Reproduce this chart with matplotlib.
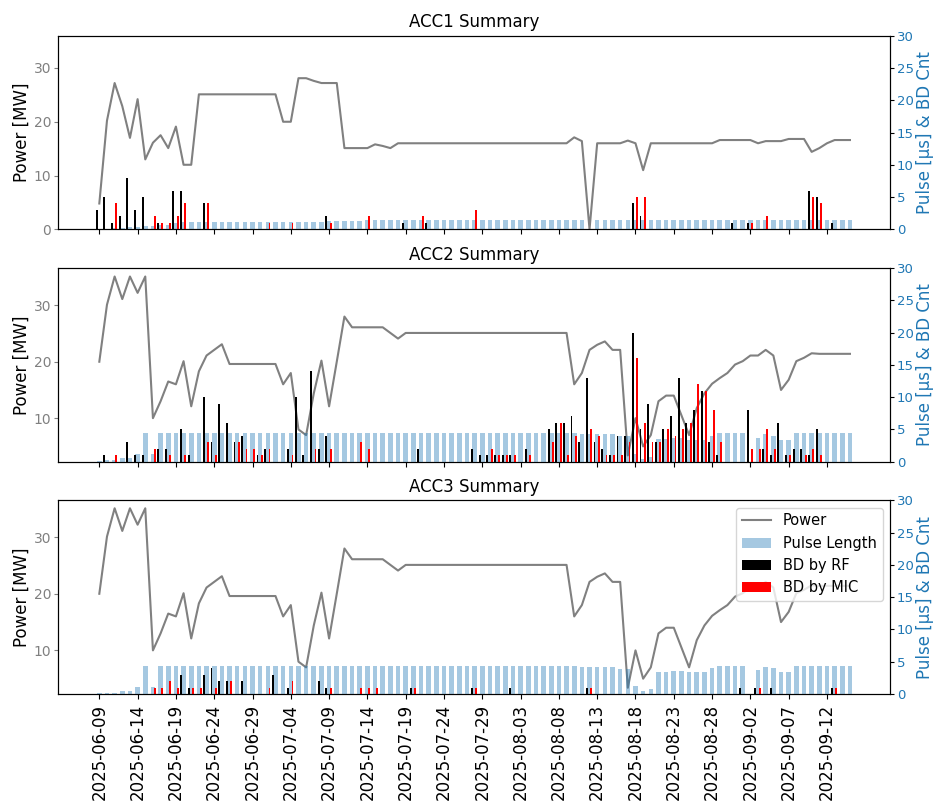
import matplotlib

matplotlib.use("Agg")
import matplotlib.dates as mdates
import matplotlib.pyplot as plt
import numpy as np
import pandas as pd

plt.rcParams.update({"font.size": 10})

START = "2025-06-09"
N_DAYS = 99

# ---------------------------------------------------------------- ACC1
ACC1_POWER = [4.8, 20.2, 27.2, 22.9, 17.0, 24.2, 13.0, 16.1, 17.5, 15.1, 19.1, 12.0, 12.0,
              25.1, 25.1, 25.1, 25.1, 25.1, 25.1, 25.1, 25.1, 25.1, 25.1, 25.1,
              20.0, 20.0, 28.1, 28.1, 27.6, 27.2, 27.2, 27.2,
              15.1, 15.1, 15.1, 15.1, 15.8, 15.5, 15.1,
              16.0, 16.0, 16.0, 16.0, 16.0, 16.0, 16.0, 16.0, 16.0, 16.0, 16.0, 16.0,
              16.0, 16.0, 16.0, 16.0, 16.0, 16.0, 16.0, 16.0, 16.0, 16.0, 16.0,
              17.1, 16.4, 0.0, 16.0, 16.0, 16.0, 16.0, 16.5, 16.0, 11.0,
              16.0, 16.0, 16.0, 16.0, 16.0, 16.0, 16.0, 16.0, 16.0,
              16.6, 16.6, 16.6, 16.6, 16.6, 16.0, 16.4, 16.4, 16.4,
              16.8, 16.8, 16.8, 14.4, 15.1, 16.0, 16.6, 16.6, 16.6]
ACC1_PULSE = [0.1, 0.1, 0.15, 0.2, 0.3, 0.35, 0.5, 0.5, 0.6, 0.65, 1.0, 1.1, 1.1,
              1.15, 1.15, 1.15, 1.15, 1.15, 1.15, 1.15, 1.15, 1.15, 1.15, 1.15, 1.15,
              1.15, 1.15, 1.15, 1.15, 1.15,
              1.3, 1.3, 1.3, 1.3, 1.3,
              1.45, 1.45, 1.45, 1.45, 1.45, 1.45, 1.45, 1.45, 1.45, 1.45, 1.45, 1.45,
              1.45, 1.45, 1.45, 1.45, 1.45, 1.45, 1.45, 1.45, 1.45, 1.45, 1.45, 1.45,
              1.45, 1.45, 1.45, 1.45, 1.45, 0.0,
              1.45, 1.45, 1.45, 1.45, 1.45, 1.45, 1.45, 1.45, 1.45, 1.45, 1.45, 1.45,
              1.45, 1.45, 1.45, 1.45, 1.45, 1.45, 1.45, 1.45, 1.45, 1.45, 1.45, 1.45,
              1.45, 1.45, 1.45, 1.45, 1.45, 1.45, 1.45, 1.45, 1.45, 1.45]
ACC1_RF_DAY = [0, 1, 2, 3, 4, 5, 6, 8, 10, 11, 14, 30, 40, 43, 70, 71, 83, 85, 93, 94, 96]
ACC1_RF_CNT = [3, 5, 1, 2, 8, 3, 5, 1, 6, 6, 4, 2, 1, 1, 4, 2, 1, 1, 6, 5, 1]
ACC1_MIC_DAY = [2, 7, 8, 9, 10, 11, 14, 22, 25, 30, 35, 42, 49, 70, 71, 85, 87, 93, 94]
ACC1_MIC_CNT = [4, 2, 1, 1, 2, 4, 4, 1, 1, 1, 2, 2, 3, 5, 5, 1, 2, 5, 4]

# ---------------------------------------------------------------- ACC2
ACC2_POWER = [20.0, 30.1, 35.1, 31.1, 35.1, 32.2, 35.1, 10.0, 13.0, 16.5, 16.0, 20.1,
              12.1, 18.3, 21.1, 22.1, 23.1,
              19.6, 19.6, 19.6, 19.6, 19.6, 19.6, 19.6,
              16.0, 18.0, 8.0, 7.0, 14.4, 20.2, 12.1, 20.0, 28.0,
              26.1, 26.1, 26.1, 26.1, 26.1, 25.1, 24.1,
              25.1, 25.1, 25.1, 25.1, 25.1, 25.1, 25.1, 25.1, 25.1, 25.1, 25.1,
              25.1, 25.1, 25.1, 25.1, 25.1, 25.1, 25.1, 25.1, 25.1, 25.1, 25.1,
              16.0, 18.0, 22.1, 23.0, 23.6, 22.1, 22.1, 3.4, 10.0, 5.0, 7.0, 13.0,
              14.0, 14.0, 10.5, 7.0, 11.8, 14.4, 16.1, 17.1, 18.0, 19.5, 20.1, 21.1,
              21.1, 22.1, 21.1, 15.0, 16.8, 20.1, 20.7, 21.5,
              21.4, 21.4, 21.4, 21.4, 21.4]
ACC2_PULSE = [0.15, 0.25, 0.3, 0.55, 0.55, 1.2, 4.4, 1.2,
              4.4, 4.4, 4.4, 4.4, 4.4, 4.4, 4.4, 4.4, 4.4, 4.4, 4.4,
              4.4, 4.4, 4.4, 4.4, 4.4, 4.4, 4.4, 4.4, 4.4, 4.4, 4.4,
              4.4, 4.4, 4.4, 4.4, 4.4, 4.4, 4.4, 4.4, 4.4, 4.4, 4.4,
              4.4, 4.4, 4.4, 4.4, 4.4, 4.4, 4.4, 4.4, 4.4, 4.4, 4.4,
              4.4, 4.4, 4.4, 4.4, 4.4, 4.4, 4.4, 4.4, 4.4, 4.4, 4.4,
              4.25, 4.25, 4.25, 4.25, 4.25, 3.9, 3.9, 1.2, 0.4, 0.7,
              3.45, 3.45, 3.6, 3.6, 3.35, 3.35, 3.35, 3.95,
              4.4, 4.4, 4.4, 4.4, 0.0, 3.7, 4.25, 3.95, 3.35, 3.35,
              4.4, 4.4, 4.4, 4.4, 4.4, 4.4, 4.4, 4.4]
ACC2_RF_DAY = [1, 4, 5, 6, 8, 9, 11, 12, 14, 15, 16, 17, 18, 19, 21, 22, 25, 26, 27, 28,
               29, 30, 42, 49, 50, 51, 52, 53, 54, 56, 59, 60, 61, 62, 63, 64, 65, 66,
               67, 68, 69, 70, 71, 72, 73, 74, 75, 76, 77, 78, 79, 80, 81, 85, 87, 88,
               89, 90, 91, 92, 93, 94]
ACC2_RF_CNT = [1, 3, 1, 1, 2, 2, 5, 1, 10, 3, 9, 6, 3, 4, 1, 2, 2, 10, 1, 14,
               2, 4, 2, 2, 1, 1, 1, 1, 1, 2, 5, 6, 6, 7, 3, 13, 3, 2,
               1, 4, 4, 20, 5, 9, 3, 5, 7, 13, 6, 8, 11, 3, 1, 8, 2, 1,
               6, 1, 2, 2, 1, 5]
ACC2_MIC_DAY = [2, 7, 9, 11, 14, 15, 18, 19, 20, 21, 22, 25, 28, 30, 34, 35, 51, 52, 53,
                54, 56, 59, 60, 61, 62, 64, 65, 66, 67, 68, 69, 70, 71, 72, 73, 74, 75,
                76, 77, 78, 79, 80, 81, 85, 86, 87, 88, 90, 92, 93, 94]
ACC2_MIC_CNT = [1, 2, 1, 1, 3, 1, 3, 2, 2, 1, 2, 1, 2, 2, 3, 2, 2, 1, 1,
                1, 1, 3, 6, 1, 4, 5, 4, 1, 1, 1, 3, 16, 6, 3, 3, 5, 4,
                5, 6, 12, 11, 8, 3, 2, 2, 5, 2, 1, 1, 2, 1]

# ---------------------------------------------------------------- ACC3
ACC3_POWER = list(ACC2_POWER)
ACC3_PULSE = [0.1, 0.1, 0.15, 0.4, 0.4, 1.1, 4.4, 1.1] + ACC2_PULSE[8:]
ACC3_RF_DAY = [11, 12, 14, 15, 16, 17, 19, 23, 25, 29, 30, 41, 49, 54, 64, 84, 86, 88, 96]
ACC3_RF_CNT = [3, 1, 3, 4, 2, 2, 2, 3, 1, 2, 1, 1, 1, 1, 1, 1, 1, 1, 1]
ACC3_MIC_DAY = [7, 8, 9, 10, 12, 13, 15, 17, 22, 25, 30, 34, 35, 36, 41, 49, 64, 86, 96]
ACC3_MIC_CNT = [1, 1, 2, 1, 1, 1, 1, 2, 1, 2, 1, 1, 1, 1, 1, 1, 1, 1, 1]

PANELS = [
    ("ACC1", ACC1_POWER, ACC1_PULSE, ACC1_RF_DAY, ACC1_RF_CNT, ACC1_MIC_DAY, ACC1_MIC_CNT, (0, 36)),
    ("ACC2", ACC2_POWER, ACC2_PULSE, ACC2_RF_DAY, ACC2_RF_CNT, ACC2_MIC_DAY, ACC2_MIC_CNT, (2.3, 36.6)),
    ("ACC3", ACC3_POWER, ACC3_PULSE, ACC3_RF_DAY, ACC3_RF_CNT, ACC3_MIC_DAY, ACC3_MIC_CNT, (2.3, 36.5)),
]

dates = mdates.date2num(pd.date_range(START, periods=N_DAYS))
ticks = mdates.date2num(pd.date_range("2025-06-09", "2025-09-12", freq="5D"))

fig, axes = plt.subplots(3, 1, figsize=(9.33, 8.06), dpi=100, sharex=True)
fig.subplots_adjust(left=0.062, right=0.954, top=0.9557, bottom=0.139, hspace=0.2)

for ax, (name, power, pulse, rf_d, rf_c, mic_d, mic_c, ylim) in zip(axes, PANELS):
    ax2 = ax.twinx()
    ln, = ax.plot(dates, power, color="gray", lw=1.5, label="Power")
    b1 = ax2.bar(dates, pulse, width=0.6, color="tab:blue", alpha=0.4, label="Pulse Length")
    rf_x = dates[np.array(rf_d)] - 0.35
    mic_x = dates[np.array(mic_d)] + 0.22
    b2 = ax2.bar(rf_x, rf_c, width=0.25, color="black", label="BD by RF")
    b3 = ax2.bar(mic_x, mic_c, width=0.25, color="red", label="BD by MIC")

    ax.set_ylim(*ylim)
    ax.set_ylabel("Power [MW]", fontsize=12, labelpad=2)
    ax.tick_params(axis="y", colors="gray", labelsize=10, length=2.8, pad=2)
    ax.set_title(f"{name} Summary", fontsize=12)

    ax2.set_ylim(0, 30)
    ax2.set_ylabel("Pulse [\u00b5s] & BD Cnt", color="tab:blue", fontsize=12, labelpad=1.5)
    ax2.tick_params(axis="y", labelcolor="tab:blue", labelsize=9.5, length=2.8, pad=2)

    if name == "ACC3":
        ax2.legend([ln, b1, b2, b3], ["Power", "Pulse Length", "BD by RF", "BD by MIC"],
                   loc="upper right", fontsize=10.5)

axes[-1].xaxis.set_major_locator(matplotlib.ticker.FixedLocator(ticks))
axes[-1].xaxis.set_major_formatter(mdates.DateFormatter("%Y-%m-%d"))
plt.setp(axes[-1].get_xticklabels(), rotation=90, fontsize=12)

fig.savefig("out.png")
